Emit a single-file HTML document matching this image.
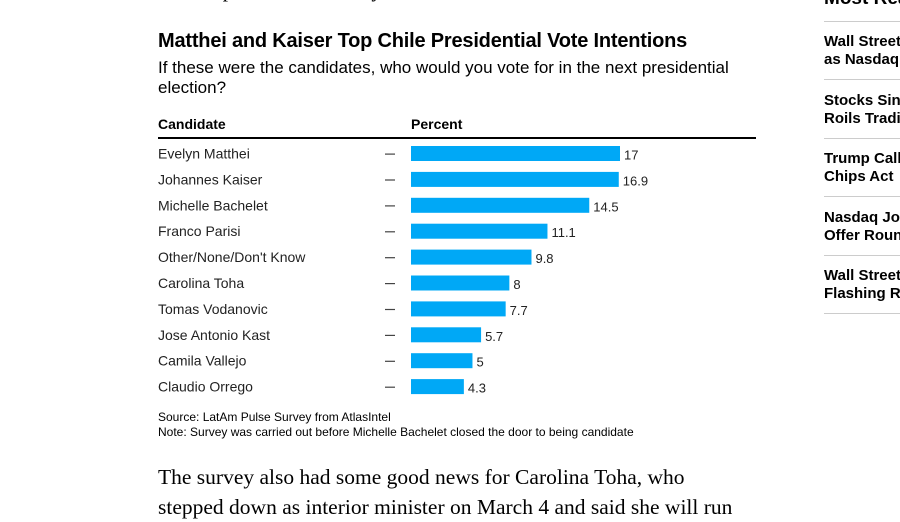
<!DOCTYPE html>
<html><head><meta charset="utf-8"><style>
body{margin:0;width:900px;height:506px;overflow:hidden;background:#fff;font-family:"Liberation Sans",sans-serif;color:#000;position:relative}
.a{position:absolute;white-space:nowrap}
.side{position:absolute;left:824px;width:76px;overflow:hidden;font-weight:bold;font-size:15px;line-height:18px;white-space:nowrap}
.sl{position:absolute;left:824px;width:76px;height:1px;background:#ccc}
</style></head><body>
<div class="a" style="left:160px;top:-22px;font-family:'Liberation Serif',serif;font-size:21px">Chile's presidential survey</div>
<div class="a" style="left:158px;top:30px;font-size:20px;font-weight:bold;letter-spacing:-0.2px">Matthei and Kaiser Top Chile Presidential Vote Intentions</div>
<div class="a" style="left:158px;top:58px;font-size:17px;line-height:20px;white-space:normal;width:600px">If these were the candidates, who would you vote for in the next presidential election?</div>
<div class="a" style="left:158px;top:116px;font-size:14px;font-weight:bold">Candidate</div>
<div class="a" style="left:411px;top:116px;font-size:14px;font-weight:bold">Percent</div>
<div class="a" style="left:158px;top:137px;width:598px;height:2px;background:#000"></div>
<svg id="chart" class="a" style="left:0;top:0" width="900" height="506"></svg>
<div class="a" style="left:158px;top:410px;font-size:12px;line-height:15px">Source: LatAm Pulse Survey from AtlasIntel<br>Note: Survey was carried out before Michelle Bachelet closed the door to being candidate</div>
<div class="a" style="left:158px;top:462px;font-family:'Liberation Serif',serif;font-size:21.5px;line-height:30px">The survey also had some good news for Carolina Toha, who<br>stepped down as interior minister on March 4 and said she will run</div>
<div class="side" style="top:-12px;font-size:19px;line-height:22px">Most Read</div>
<div class="sl" style="top:21px"></div>
<div class="side" style="top:33px">Wall Street<br>as Nasdaq</div>
<div class="sl" style="top:79px"></div>
<div class="side" style="top:92px">Stocks Sink<br>Roils Trading</div>
<div class="sl" style="top:138px"></div>
<div class="side" style="top:150px">Trump Calls<br>Chips Act</div>
<div class="sl" style="top:196px"></div>
<div class="side" style="top:209px">Nasdaq Jobs<br>Offer Round</div>
<div class="sl" style="top:255px"></div>
<div class="side" style="top:267px">Wall Street<br>Flashing Red</div>
<div class="sl" style="top:313px"></div>
<script>
const categories=["Evelyn Matthei","Johannes Kaiser","Michelle Bachelet","Franco Parisi","Other/None/Don't Know","Carolina Toha","Tomas Vodanovic","Jose Antonio Kast","Camila Vallejo","Claudio Orrego"];
const values=[17,16.9,14.5,11.1,9.8,8,7.7,5.7,5,4.3];
const labels=["17","16.9","14.5","11.1","9.8","8","7.7","5.7","5","4.3"];
const svg=document.getElementById('chart');const NS="http://www.w3.org/2000/svg";
const x0=411,scale=209/17;
function xs(v){return v*scale;}
function yc(i){return 153.5+i*25.9;}
function mk(t,a){const e=document.createElementNS(NS,t);for(const k in a)e.setAttribute(k,a[k]);svg.appendChild(e);return e;}
categories.forEach((c,i)=>{
const y=yc(i);
const t=mk('text',{x:158,y:y+5,'font-size':14,'font-family':'Liberation Sans, sans-serif',fill:'#222'});t.textContent=c;


const d=mk('rect',{x:385,y:y,width:10,height:1.2,fill:'#444'});


const b=mk('rect',{x:x0,y:y-7.5,width:xs(values[i]),height:15,fill:'#00a8f6'});


const v=mk('text',{x:x0+xs(values[i])+4,y:y+6,'font-size':13,'font-family':'Liberation Sans, sans-serif',fill:'#222'});v.textContent=labels[i];


});
</script>
</body></html>
